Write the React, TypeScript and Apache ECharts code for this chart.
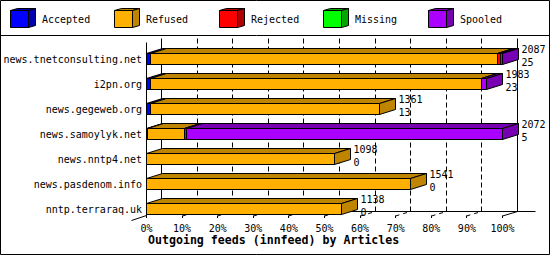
import React, { useEffect, useRef } from 'react';
import * as echarts from 'echarts';

// ---------- data ----------
const categories = [
  'news.tnetconsulting.net',
  'i2pn.org',
  'news.gegeweb.org',
  'news.samoylyk.net',
  'news.nntp4.net',
  'news.pasdenom.info',
  'nntp.terraraq.uk',
];
const statusNames = ['Accepted', 'Refused', 'Rejected', 'Missing', 'Spooled'];
// percentages of articles per feed
const acceptedPct = [1.2, 1.2, 1.0, 0.24, 0, 0, 0];
const refusedPct = [97.3, 92.9, 64.5, 10.5, 52.8, 74.2, 54.8];
const rejectedPct = [0.9, 0, 0, 0.5, 0, 0, 0];
const missingPct = [0, 0, 0, 0, 0, 0, 0];
const spooledPct = [0.6, 1.4, 0, 88.7, 0, 0, 0];
const totalArticles = [2087, 1983, 1361, 2072, 1098, 1541, 1138];
const acceptedArticles = [25, 23, 13, 5, 0, 0, 0];
const xTicks = [0, 10, 20, 30, 40, 50, 60, 70, 80, 90, 100];
const titleText = 'Outgoing feeds (innfeed) by Articles';

// ---------- style ----------
const frontColors = ['#0000ff', '#ffb000', '#ff0000', '#00ff00', '#aa00ff'];
const darkColors = ['#0000b0', '#bf8400', '#b00000', '#00a800', '#7700b3'];
const FONT = 'DejaVu Sans Mono';
const DX = 16;
const DY = 5;
const HALF = 5.5;
const BACK_TOP = 38.5;
const FRONT_TOP = 42.5;
const FLOOR_BACK = 211.5;
const FLOOR_FRONT = 216;

const pctSeries = [acceptedPct, refusedPct, rejectedPct, missingPct, spooledPct];

const px = (v: number) => Math.floor(v) + 0.5;

function buildSegments(si: number) {
  const out: number[][] = [];
  categories.forEach((_, ci) => {
    let start = 0;
    for (let k = 0; k < si; k++) start += pctSeries[k][ci];
    const end = start + pctSeries[si][ci];
    out.push([start, end, ci]);
  });
  return out;
}

function barRender(si: number) {
  return (params: any, api: any) => {
    const s = api.value(0);
    const e = api.value(1);
    const c = api.value(2);
    if (e - s <= 0) return null;
    const p0 = api.coord([s, c]);
    const p1 = api.coord([e, c]);
    const x0 = px(p0[0]);
    let x1 = px(p1[0]);
    if (x1 < x0) x1 = x0;
    const top = p0[1] - HALF;
    const bot = p0[1] + HALF;
    const st = { stroke: '#000', lineWidth: 1 };
    return {
      type: 'group',
      children: [
        {
          type: 'polygon',
          shape: { points: [[x0, top], [x0 + DX, top - DY], [x1 + DX, top - DY], [x1, top]] },
          style: { fill: darkColors[si], ...st },
        },
        {
          type: 'polygon',
          shape: { points: [[x1, top], [x1 + DX, top - DY], [x1 + DX, bot - DY], [x1, bot]] },
          style: { fill: darkColors[si], ...st },
        },
        {
          type: 'rect',
          shape: { x: x0, y: top, width: x1 - x0, height: bot - top },
          style: { fill: frontColors[si], ...st },
        },
      ],
    };
  };
}

function backdropRender(params: any, api: any) {
  const v = api.value(0);
  const xf = px(api.coord([v, 0])[0]);
  const xb = xf + 15;
  const children: any[] = [];
  const solid = v === 0 || v === 100;
  children.push({
    type: 'line',
    shape: { x1: xb, y1: BACK_TOP, x2: xb, y2: FLOOR_BACK },
    style: { stroke: '#000', lineWidth: 1, lineDash: solid ? null : [5, 3] },
  });
  children.push({
    type: 'line',
    shape: { x1: xf, y1: FLOOR_FRONT - 0.5, x2: xf, y2: FLOOR_FRONT + 2 },
    style: { stroke: '#000', lineWidth: 1 },
  });
  if (v === 0) {
    children.push({
      type: 'line',
      shape: { x1: xf, y1: FRONT_TOP, x2: xf, y2: FLOOR_FRONT },
      style: { stroke: '#000', lineWidth: 1 },
    });
    children.push({
      type: 'line',
      shape: { x1: xf - 15, y1: FLOOR_FRONT + 4.5, x2: xf, y2: FLOOR_FRONT - 0.5 },
      style: { stroke: '#000', lineWidth: 1 },
    });
    children.push({
      type: 'line',
      shape: { x1: xf, y1: FLOOR_BACK, x2: 535.5, y2: FLOOR_BACK },
      style: { stroke: '#000', lineWidth: 1 },
    });
  } else {
    children.push({
      type: 'line',
      shape: { x1: xf, y1: FLOOR_FRONT, x2: xb, y2: FLOOR_BACK },
      style: { stroke: '#000', lineWidth: 1, lineDash: solid ? null : [4, 4] },
    });
  }
  return { type: 'group', children };
}

function labelRender(params: any, api: any) {
  const c = api.value(0);
  const e = api.value(1);
  const p = api.coord([e, c]);
  const x1 = px(p[0]);
  return {
    type: 'text',
    x: x1 + DX + 3,
    y: p[1] - 3.25,
    style: {
      text: `${totalArticles[c]}\n${acceptedArticles[c]}`,
      fontFamily: FONT,
      fontSize: 10,
      fill: '#000',
      align: 'left',
      verticalAlign: 'middle',
      lineHeight: 12.5,
    },
  };
}

function legendGraphics() {
  const els: any[] = [];
  statusNames.forEach((name, i) => {
    const bx = Math.round(10 + i * 104.4) + 0.5;
    const by = 10.5;
    const w = 18;
    const h = 17;
    const st = { stroke: '#000', lineWidth: 1 };
    els.push({
      type: 'polygon',
      shape: { points: [[bx, by], [bx + 7, by - 2], [bx + w + 7, by - 2], [bx + w, by]] },
      style: { fill: darkColors[i], ...st },
    });
    els.push({
      type: 'polygon',
      shape: { points: [[bx + w, by], [bx + w + 7, by - 2], [bx + w + 7, by + h - 2], [bx + w, by + h]] },
      style: { fill: darkColors[i], ...st },
    });
    els.push({
      type: 'rect',
      shape: { x: bx, y: by, width: w, height: h },
      style: { fill: frontColors[i], ...st },
    });
    els.push({
      type: 'text',
      x: bx + 31.5,
      y: 19,
      style: { text: name, fontFamily: FONT, fontSize: 10, fill: '#000', verticalAlign: 'middle', align: 'left' },
    });
  });
  return els;
}

export default function App() {
  const ref = useRef<HTMLDivElement>(null);
  useEffect(() => {
    document.body.style.margin = '0';
    if (!ref.current) return;
    const chart = echarts.init(ref.current, null, { renderer: 'svg' });
    const barSeries = statusNames.map((name, si) => ({
      name,
      type: 'custom',
      z: 3,
      clip: false,
      renderItem: barRender(si),
      encode: { x: [0, 1], y: 2 },
      data: buildSegments(si),
    }));
    const labelData = categories.map((_, ci) => {
      let end = 0;
      pctSeries.forEach((arr) => (end += arr[ci]));
      return [ci, end];
    });
    chart.setOption({
      animation: false,
      backgroundColor: '#fff',
      title: {
        text: titleText,
        left: 148,
        top: 234,
        padding: 0,
        textStyle: { fontFamily: FONT, fontWeight: 'bold', fontSize: 11.6, color: '#000' },
      },
      grid: { left: 146.5, top: 46.5, width: 356, height: 175, outerBoundsMode: 'none', containLabel: false },
      xAxis: {
        type: 'value',
        min: 0,
        max: 100,
        interval: 10,
        axisLine: { show: false },
        axisTick: { show: false },
        splitLine: { show: false },
        axisLabel: {
          formatter: '{value}%',
          fontFamily: FONT,
          fontSize: 10,
          color: '#000',
          margin: 1.5,
          showMinLabel: true,
          showMaxLabel: true,
        },
      },
      yAxis: {
        type: 'category',
        inverse: true,
        data: categories,
        axisLine: { show: false },
        axisTick: { show: false },
        splitLine: { show: false },
        axisLabel: { fontFamily: FONT, fontSize: 10, color: '#000', margin: 4.5 },
      },
      graphic: [
        {
          type: 'rect',
          shape: { x: 0.5, y: 0.5, width: 549, height: 254 },
          style: { fill: 'none', stroke: '#000', lineWidth: 1 },
          z: 0,
        },
        {
          type: 'line',
          shape: { x1: 0, y1: 35.5, x2: 550, y2: 35.5 },
          style: { stroke: '#000', lineWidth: 1 },
        },
        ...legendGraphics(),
      ],
      series: [
        {
          name: 'backdrop',
          type: 'custom',
          z: 1,
          clip: false,
          renderItem: backdropRender,
          encode: { x: 0, y: 1 },
          data: xTicks.map((v) => [v, 0]),
          silent: true,
        },
        ...barSeries,
        {
          name: 'labels',
          type: 'custom',
          z: 4,
          clip: false,
          renderItem: labelRender,
          encode: { x: 1, y: 0 },
          data: labelData,
          silent: true,
        },
      ],
    });
    return () => chart.dispose();
  }, []);
  return <div ref={ref} style={{ width: 550, height: 255 }} />;
}
